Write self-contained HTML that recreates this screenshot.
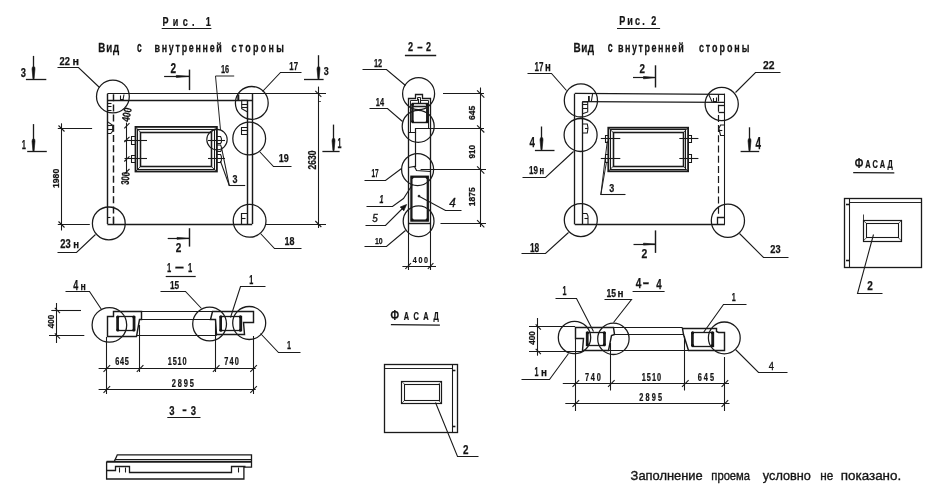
<!DOCTYPE html>
<html lang="ru"><head><meta charset="utf-8"><title>Рис. 1, Рис. 2</title>
<style>
html,body{margin:0;padding:0;background:#fff;}
body{width:929px;height:490px;overflow:hidden;}
svg{display:block;will-change:transform;}
svg line,svg polyline,svg polygon,svg circle,svg rect,svg path{fill:none;stroke:#1a1a1a;stroke-linecap:butt;stroke-linejoin:miter;}
svg text{fill:#141414;stroke:none;font-family:"Liberation Sans",sans-serif;}
svg text.b{font-weight:bold;stroke:#141414;stroke-width:0.25px;}
svg text.n{font-weight:normal;}
svg text.sc{font-variant:small-caps;}
svg text.note{stroke:#141414;stroke-width:0.35px;}
</style></head><body>
<svg width="929" height="490" viewBox="0 0 929 490">
<rect x="0" y="0" width="929" height="490" style="fill:#fff;stroke:none"/>
<g id="fig1">
<text class="b" transform="translate(162.4,25.8) scale(0.72,1)" x="0" y="0" font-size="12.57" textLength="67.08" lengthAdjust="spacing">Рис. 1</text>
<line x1="161.7" y1="28.5" x2="211.4" y2="28.5" stroke-width="1.2" />
<text class="b" transform="scale(0.75,1)"><tspan x="131.07" y="51.8" font-size="12.99" textLength="28.0" lengthAdjust="spacing">Вид</tspan> <tspan x="182.53" y="51.8" font-size="14.64" textLength="6.27" lengthAdjust="spacingAndGlyphs">с</tspan> <tspan x="206.13" y="51.8" font-size="11.95" textLength="89.6" lengthAdjust="spacing">внутренней</tspan> <tspan x="308.67" y="51.8" font-size="11.95" textLength="69.73" lengthAdjust="spacing">стороны</tspan></text>
<line x1="107.4" y1="93.5" x2="326" y2="93.5" stroke-width="1.2" />
<line x1="107.4" y1="100.5" x2="252.2" y2="100.5" stroke-width="1.68" />
<line x1="107.5" y1="93.8" x2="107.5" y2="224" stroke-width="1.44" />
<line x1="113.5" y1="94.2" x2="113.5" y2="224" stroke-width="1.44" stroke-dasharray="7 3.2"/>
<line x1="107.4" y1="224.5" x2="252.2" y2="224.5" stroke-width="1.44" />
<line x1="247.5" y1="100.4" x2="247.5" y2="224" stroke-width="1.44" />
<line x1="252.5" y1="93.8" x2="252.5" y2="224" stroke-width="1.44" />
<line x1="265" y1="224.5" x2="326" y2="224.5" stroke-width="1.08" />
<polyline points="120.5,95.5 120.5,99.5 123.5,99.5" stroke-width="1.08" />
<line x1="124" y1="94.5" x2="123" y2="100" stroke-width="1.08" />
<polyline points="107.5,103.5 111.5,103.5" stroke-width="1.08" />
<polyline points="107.5,106.5 111.5,106.5" stroke-width="1.08" />
<polyline points="107.5,110.5 111.5,110.5" stroke-width="1.08" />
<polyline points="107.4,121.6 112.7,125.2 112.7,131 110.8,133.5 107.4,133.5" stroke-width="1.08" />
<line x1="107.4" y1="125.5" x2="112" y2="125.5" stroke-width="1.08" />
<line x1="107.4" y1="129.5" x2="112.7" y2="129.5" stroke-width="1.08" />
<line x1="238.3" y1="94.5" x2="238.3" y2="100.4" stroke-width="2.04" />
<polyline points="247.6,100.4 241.7,100.4 241.7,108.6 247.6,112" stroke-width="1.08" />
<line x1="241.7" y1="104.5" x2="247.6" y2="104.5" stroke-width="1.08" />
<line x1="241.7" y1="107.5" x2="247.6" y2="107.5" stroke-width="1.08" />
<polyline points="247.5,127.5 241.5,127.5 241.5,134.5 247.5,134.5" stroke-width="1.08" />
<line x1="241.9" y1="130.5" x2="247.6" y2="130.5" stroke-width="1.08" />
<polyline points="247.5,213.5 241.5,213.5 241.5,224.5" stroke-width="1.2" />
<line x1="241.5" y1="218.5" x2="245.5" y2="218.5" stroke-width="1.08" />
<polyline points="107.5,217.5 110.5,217.5" stroke-width="1.08" />
<line x1="113.5" y1="217" x2="113.5" y2="224" stroke-width="1.2" />
<circle cx="112.9" cy="96.5" r="16.4" stroke-width="1.26"/>
<circle cx="251.8" cy="102.9" r="16.4" stroke-width="1.26"/>
<circle cx="249.2" cy="138.5" r="16.4" stroke-width="1.26"/>
<circle cx="108.8" cy="223.4" r="16.4" stroke-width="1.26"/>
<circle cx="249.6" cy="220.8" r="16.4" stroke-width="1.26"/>
<circle cx="217" cy="139.6" r="10.2" stroke-width="1.13"/>
<rect x="135.5" y="126.9" width="81.4" height="44.6" stroke-width="1.8"/>
<rect x="137.5" y="129.5" width="77.0" height="40.0" stroke-width="1.08"/>
<rect x="140.5" y="132.5" width="71.0" height="34.0" stroke-width="1.56"/>
<line x1="135.5" y1="126.9" x2="140.4" y2="132.2" stroke-width="0.84" />
<line x1="216.9" y1="126.9" x2="211.4" y2="132.2" stroke-width="0.84" />
<line x1="135.5" y1="171.5" x2="140.4" y2="166.6" stroke-width="0.84" />
<line x1="216.9" y1="171.5" x2="211.4" y2="166.6" stroke-width="0.84" />
<line x1="124.5" y1="140.5" x2="147" y2="140.5" stroke-width="1.08" />
<line x1="124.5" y1="158.5" x2="147" y2="158.5" stroke-width="1.08" />
<polyline points="135.5,136.5 131.5,136.5 131.5,144.5 135.5,144.5" stroke-width="1.08" />
<polyline points="135.5,155.5 131.5,155.5 131.5,162.5 135.5,162.5" stroke-width="1.08" />
<line x1="208" y1="140.5" x2="225" y2="140.5" stroke-width="1.08" />
<line x1="208" y1="158.5" x2="225" y2="158.5" stroke-width="1.08" />
<polyline points="216.9,136.5 220.6,136.5 221.4,138.5 221.4,142 220.6,143.5 216.9,143.5" stroke-width="1.08" />
<polyline points="216.9,145 220.6,145 221.4,147 221.4,150 220.6,151.5 216.9,151.5" stroke-width="1.08" />
<polyline points="216.9,154.5 220.6,154.5 221.4,156.5 221.4,160.5 220.6,162.5 216.9,162.5" stroke-width="1.08" />
<line x1="126.5" y1="122.6" x2="126.5" y2="173.6" stroke-width="1.08" />
<line x1="124.3" y1="128.4" x2="129.5" y2="123.2" stroke-width="1.08" />
<line x1="124.3" y1="142.0" x2="129.5" y2="136.8" stroke-width="1.08" />
<line x1="124.3" y1="161.5" x2="129.5" y2="156.3" stroke-width="1.08" />
<line x1="124.3" y1="174.2" x2="129.5" y2="169.0" stroke-width="1.08" />
<text class="b" transform="translate(129.3,122.3) rotate(-80)" x="0" y="0" font-size="11.17" textLength="14.2" lengthAdjust="spacingAndGlyphs">400</text>
<text class="b" transform="translate(128.8,185) rotate(-86)" x="0" y="0" font-size="11.17" textLength="12.8" lengthAdjust="spacingAndGlyphs">300</text>
<line x1="61.5" y1="123.3" x2="61.5" y2="230.5" stroke-width="1.08" />
<line x1="57.8" y1="128.5" x2="92.1" y2="128.5" stroke-width="1.08" />
<line x1="57.8" y1="224.5" x2="89.8" y2="224.5" stroke-width="1.08" />
<line x1="58.5" y1="125.5" x2="64.5" y2="131.5" stroke-width="1.08" />
<line x1="58.5" y1="221.5" x2="64.5" y2="227.5" stroke-width="1.08" />
<text class="b" transform="translate(59,188) rotate(-90)" x="0" y="0" font-size="9.92" textLength="19.2" lengthAdjust="spacingAndGlyphs">1980</text>
<line x1="318.5" y1="86.6" x2="318.5" y2="228" stroke-width="1.08" />
<line x1="315.3" y1="90.8" x2="321.3" y2="96.8" stroke-width="1.08" />
<line x1="315.3" y1="221" x2="321.3" y2="227" stroke-width="1.08" />
<line x1="318" y1="101.5" x2="321" y2="101.5" stroke-width="0.72" />
<text class="b" transform="translate(315.7,169.4) rotate(-90)" x="0" y="0" font-size="10.34" textLength="19.0" lengthAdjust="spacingAndGlyphs">2630</text>
<line x1="33.5" y1="55.9" x2="33.5" y2="78.9" stroke-width="1.32" />
<polygon points="32.5,66.9 34.7,66.9 35.0,68.9 34.0,78.9 33.0,78.9 32.0,68.9" stroke-width="0.6" style="fill:#111"/>
<line x1="25.9" y1="79.5" x2="46.3" y2="79.5" stroke-width="1.32" />
<text class="b" x="20.8" y="77.3" font-size="12.71" textLength="5.2" lengthAdjust="spacingAndGlyphs">3</text>
<line x1="318.5" y1="55.2" x2="318.5" y2="78.9" stroke-width="1.32" />
<polygon points="317.5,66.9 319.7,66.9 320.0,68.9 319.0,78.9 318.0,78.9 317.0,68.9" stroke-width="0.6" style="fill:#111"/>
<line x1="304" y1="79.5" x2="323.6" y2="79.5" stroke-width="1.32" />
<text class="b" x="323.8" y="75.2" font-size="11.73" textLength="5.0" lengthAdjust="spacingAndGlyphs">3</text>
<line x1="33.5" y1="124.1" x2="33.5" y2="151.2" stroke-width="1.32" />
<polygon points="32.5,139.2 34.7,139.2 35.0,141.2 34.0,151.2 33.0,151.2 32.0,141.2" stroke-width="0.6" style="fill:#111"/>
<line x1="27.2" y1="151.5" x2="46.8" y2="151.5" stroke-width="1.32" />
<text class="b" x="21.8" y="149" font-size="13.55" textLength="4.2" lengthAdjust="spacingAndGlyphs">1</text>
<line x1="333.5" y1="124.6" x2="333.5" y2="150.7" stroke-width="1.32" />
<polygon points="332.5,138.7 334.7,138.7 335.0,140.7 334.0,150.7 333.0,150.7 332.0,140.7" stroke-width="0.6" style="fill:#111"/>
<line x1="322.4" y1="151.5" x2="339.6" y2="151.5" stroke-width="1.32" />
<text class="b" x="337.6" y="147.8" font-size="15.36" textLength="4.0" lengthAdjust="spacingAndGlyphs">1</text>
<line x1="164.1" y1="76.5" x2="189.8" y2="76.5" stroke-width="1.2" />
<line x1="189.5" y1="69.6" x2="189.5" y2="90.1" stroke-width="1.44" />
<polygon points="176.3,75.4 189.8,76.3 176.3,77.4" stroke-width="0.72" style="fill:#111"/>
<text class="b" x="170.6" y="73.3" font-size="14.11" textLength="5.6" lengthAdjust="spacingAndGlyphs">2</text>
<line x1="167.7" y1="238.5" x2="189.2" y2="238.5" stroke-width="1.2" />
<line x1="189.5" y1="228.2" x2="189.5" y2="246.6" stroke-width="1.44" />
<polygon points="177,237.4 189.2,238.3 177,239.3" stroke-width="0.72" style="fill:#111"/>
<text class="b" x="175.7" y="251.7" font-size="12.85" textLength="5.6" lengthAdjust="spacingAndGlyphs">2</text>
<text class="b"><tspan x="59.6" y="65.2" font-size="11.73" textLength="10.4" lengthAdjust="spacingAndGlyphs">22</tspan> <tspan x="72.5" y="65.2" font-size="11.56" textLength="6.5" lengthAdjust="spacingAndGlyphs">н</tspan></text>
<polyline points="57.5,67.5 78.5,67.5 99.5,87.5" stroke-width="1.08" />
<text class="b"><tspan x="60.2" y="248.3" font-size="11.87" textLength="10.4" lengthAdjust="spacingAndGlyphs">23</tspan> <tspan x="73.2" y="248.3" font-size="11.75" textLength="5.8" lengthAdjust="spacingAndGlyphs">н</tspan></text>
<polyline points="57.5,252.5 76.5,252.5 95.5,234.5" stroke-width="1.08" />
<text class="b" x="289.3" y="69.9" font-size="10.34" textLength="8.7" lengthAdjust="spacingAndGlyphs">17</text>
<polyline points="301.5,72.5 280.5,72.5 262.5,91.5" stroke-width="1.08" />
<text class="b" x="278.8" y="162" font-size="11.31" textLength="10.0" lengthAdjust="spacingAndGlyphs">19</text>
<polyline points="291.5,166.5 273.5,166.5 259.5,151.5" stroke-width="1.08" />
<text class="b" x="284.4" y="244.5" font-size="11.17" textLength="10.0" lengthAdjust="spacingAndGlyphs">18</text>
<polyline points="301.5,248.5 274.5,248.5 260.5,233.5" stroke-width="1.08" />
<text class="b" x="221" y="72.8" font-size="10.47" textLength="8.2" lengthAdjust="spacingAndGlyphs">16</text>
<polyline points="234.2,76 215.5,76 220.5,130" stroke-width="0.96" />
<text class="b" x="232.5" y="182.5" font-size="11.17" textLength="5.0" lengthAdjust="spacingAndGlyphs">3</text>
<line x1="228.9" y1="185.5" x2="245.2" y2="185.5" stroke-width="1.08" />
<line x1="229.3" y1="185.6" x2="221.6" y2="148" stroke-width="1.08" />
<line x1="229.3" y1="185.6" x2="220.4" y2="161" stroke-width="1.08" />
</g>
<g id="s11">
<text class="b"><tspan x="167.1" y="272.3" font-size="13.41" textLength="4.2" lengthAdjust="spacingAndGlyphs">1</tspan> <tspan x="175.02" y="271.85" font-size="14" textLength="8.9" lengthAdjust="spacingAndGlyphs">–</tspan> <tspan x="188.0" y="272.3" font-size="13.41" textLength="4.2" lengthAdjust="spacingAndGlyphs">1</tspan></text>
<line x1="165.7" y1="276.5" x2="195.7" y2="276.5" stroke-width="1.2" />
<line x1="141.8" y1="311.5" x2="212.4" y2="311.5" stroke-width="1.08" />
<line x1="141.8" y1="319.5" x2="210.6" y2="319.5" stroke-width="1.08" />
<line x1="136.5" y1="335.5" x2="216.7" y2="335.5" stroke-width="1.08" />
<polygon points="107.5,316.5 113.5,316.5 113.5,311.5 141.5,311.5 141.5,319.5 139.5,319.5 136.5,336.5 107.5,336.5" stroke-width="1.44" />
<rect x="117.5" y="316.5" width="17.0" height="14.0" stroke-width="1.32"/>
<line x1="117.60000000000001" y1="316.3" x2="117.60000000000001" y2="330.6" stroke-width="2.64" />
<line x1="134.0" y1="316.3" x2="134.0" y2="330.6" stroke-width="2.64" />
<circle cx="117.8" cy="316.9" r="1.5" style="fill:#111;stroke:none"/>
<circle cx="133.8" cy="316.9" r="1.5" style="fill:#111;stroke:none"/>
<circle cx="117.8" cy="330.0" r="1.5" style="fill:#111;stroke:none"/>
<circle cx="133.8" cy="330.0" r="1.5" style="fill:#111;stroke:none"/>
<polygon points="212.5,311.5 253.5,311.5 253.5,322.5 243.5,322.5 244.5,334.5 216.5,334.5 215.5,319.5 210.5,319.5" stroke-width="1.44" />
<rect x="220.5" y="316.5" width="21.0" height="14.0" stroke-width="1.32"/>
<line x1="220.70000000000002" y1="316.2" x2="220.70000000000002" y2="330.8" stroke-width="2.64" />
<line x1="240.6" y1="316.2" x2="240.6" y2="330.8" stroke-width="2.64" />
<circle cx="220.9" cy="316.8" r="1.5" style="fill:#111;stroke:none"/>
<circle cx="240.4" cy="316.8" r="1.5" style="fill:#111;stroke:none"/>
<circle cx="220.9" cy="330.2" r="1.5" style="fill:#111;stroke:none"/>
<circle cx="240.4" cy="330.2" r="1.5" style="fill:#111;stroke:none"/>
<circle cx="109.4" cy="324.9" r="17.3" stroke-width="1.26"/>
<circle cx="209.6" cy="324" r="16.9" stroke-width="1.26"/>
<circle cx="249.2" cy="323" r="16.5" stroke-width="1.26"/>
<line x1="106.5" y1="337" x2="106.5" y2="394" stroke-width="1.08" />
<line x1="139.5" y1="325" x2="139.5" y2="372" stroke-width="1.08" />
<line x1="215.5" y1="320" x2="215.5" y2="372" stroke-width="1.08" />
<line x1="253.5" y1="336" x2="253.5" y2="394" stroke-width="1.08" />
<line x1="98.6" y1="368.5" x2="255.7" y2="368.5" stroke-width="1.08" />
<line x1="98.6" y1="389.5" x2="255.7" y2="389.5" stroke-width="1.08" />
<line x1="103.5" y1="371.8" x2="110.1" y2="365.2" stroke-width="1.08" />
<line x1="136.8" y1="371.8" x2="143.4" y2="365.2" stroke-width="1.08" />
<line x1="212.9" y1="371.8" x2="219.5" y2="365.2" stroke-width="1.08" />
<line x1="250.3" y1="371.8" x2="256.9" y2="365.2" stroke-width="1.08" />
<line x1="103.5" y1="392.8" x2="110.1" y2="386.2" stroke-width="1.08" />
<line x1="250.3" y1="392.8" x2="256.9" y2="386.2" stroke-width="1.08" />
<text class="b" transform="translate(115.2,364.6) scale(0.72,1)" x="0" y="0" font-size="10.2" textLength="18.89" lengthAdjust="spacing">645</text>
<text class="b" transform="translate(167.8,364.6) scale(0.72,1)" x="0" y="0" font-size="10.2" textLength="25.97" lengthAdjust="spacing">1510</text>
<text class="b" transform="translate(224.3,364.6) scale(0.72,1)" x="0" y="0" font-size="10.2" textLength="20.14" lengthAdjust="spacing">740</text>
<text class="b" transform="translate(171.8,387) scale(0.72,1)" x="0" y="0" font-size="10.34" textLength="30.56" lengthAdjust="spacing">2895</text>
<line x1="56.5" y1="303" x2="56.5" y2="343" stroke-width="1.08" />
<line x1="51.3" y1="310.5" x2="81" y2="310.5" stroke-width="1.08" />
<line x1="49" y1="335.5" x2="84.3" y2="335.5" stroke-width="1.08" />
<line x1="54.8" y1="307.9" x2="60.0" y2="313.1" stroke-width="1.08" />
<line x1="54.8" y1="333.4" x2="60.0" y2="338.6" stroke-width="1.08" />
<text class="b" transform="translate(54,328.3) rotate(-90)" x="0" y="0" font-size="9.78" textLength="13.7" lengthAdjust="spacingAndGlyphs">400</text>
<text class="b"><tspan x="73.2" y="289.5" font-size="14.11" textLength="5.0" lengthAdjust="spacingAndGlyphs">4</tspan><tspan x="80.5" y="289.5" font-size="10.98" textLength="5.3" lengthAdjust="spacingAndGlyphs">н</tspan></text>
<polyline points="65.5,291.5 89.5,291.5 101.5,309.5" stroke-width="1.08" />
<text class="b" x="170" y="289.2" font-size="11.03" textLength="9.2" lengthAdjust="spacingAndGlyphs">15</text>
<polyline points="160.5,291.5 185.5,291.5 201.5,308.5" stroke-width="1.08" />
<text class="b" x="249.3" y="283.8" font-size="12.29" textLength="4.0" lengthAdjust="spacingAndGlyphs">1</text>
<polyline points="265.5,286.5 240.5,286.5 230.5,317.5" stroke-width="1.08" />
<text class="b" x="287" y="348.5" font-size="11.17" textLength="4" lengthAdjust="spacingAndGlyphs">1</text>
<polyline points="300.5,352.5 278.5,352.5 260.5,333.5" stroke-width="1.08" />
</g>
<g id="s33">
<text class="b"><tspan x="169.2" y="415" font-size="12.85" textLength="5.3" lengthAdjust="spacingAndGlyphs">3</tspan> <tspan x="182.26" y="413.94" font-size="13" textLength="4.53" lengthAdjust="spacingAndGlyphs">-</tspan> <tspan x="190.7" y="415" font-size="12.85" textLength="5.3" lengthAdjust="spacingAndGlyphs">3</tspan></text>
<line x1="167.3" y1="417.5" x2="200.5" y2="417.5" stroke-width="1.2" />
<polyline points="114.3,461.5 117.3,454.8 251.5,454.8 251.5,467.1 243.9,467.1 243.9,479 106.6,479 106.6,461.5" stroke-width="1.32" />
<line x1="114.8" y1="459.5" x2="251.5" y2="459.5" stroke-width="1.08" />
<line x1="106.6" y1="461.8" x2="251.5" y2="461.8" stroke-width="1.92" />
<polyline points="106.5,470.5 115.5,470.5 115.5,466.5 129.5,466.5 129.5,472.5 231.5,472.5 231.5,466.5 245.5,466.5" stroke-width="1.32" />
<line x1="119.5" y1="467.5" x2="119.5" y2="472.5" stroke-width="1.08" />
<line x1="125.5" y1="467.5" x2="125.5" y2="472.5" stroke-width="1.08" />
<line x1="238.5" y1="467.5" x2="238.5" y2="472.5" stroke-width="1.08" />
</g>
<g id="s22">
<text class="b"><tspan x="408.1" y="50.9" font-size="13.41" textLength="5.1" lengthAdjust="spacingAndGlyphs">2</tspan> <tspan x="417.21" y="50.68" font-size="13" textLength="5.34" lengthAdjust="spacingAndGlyphs">–</tspan> <tspan x="426.0" y="51.4" font-size="13.41" textLength="5.0" lengthAdjust="spacingAndGlyphs">2</tspan></text>
<line x1="404.9" y1="55.5" x2="436.2" y2="55.5" stroke-width="1.32" />
<polyline points="408.5,230.5 408.5,98.5 415.5,98.5 415.5,94.5 422.5,94.5 422.5,98.5 430.5,98.5 430.5,230.5" stroke-width="1.32" />
<polyline points="410.5,132.5 410.5,100.5 417.5,100.5 417.5,97.5 420.5,97.5 420.5,100.5 428.5,100.5 428.5,128.5" stroke-width="0.96" />
<line x1="418.5" y1="98.8" x2="418.5" y2="104" stroke-width="1.08" />
<line x1="420.5" y1="98.8" x2="420.5" y2="104" stroke-width="1.08" />
<rect x="412.5" y="103.5" width="15.0" height="19.0" stroke-width="1.44"/>
<line x1="412.4" y1="103.8" x2="412.4" y2="122.2" stroke-width="2.28" />
<line x1="427.2" y1="103.8" x2="427.2" y2="122.2" stroke-width="2.28" />
<line x1="412" y1="106.5" x2="427.8" y2="106.5" stroke-width="1.56" />
<circle cx="412.6" cy="104.6" r="1.4" style="fill:#111;stroke:none"/>
<circle cx="427.2" cy="104.6" r="1.4" style="fill:#111;stroke:none"/>
<circle cx="412.6" cy="121.6" r="1.4" style="fill:#111;stroke:none"/>
<circle cx="427.2" cy="121.6" r="1.4" style="fill:#111;stroke:none"/>
<polyline points="408.5,132.5 415.5,132.5 415.5,128.5 430.5,128.5" stroke-width="1.2" />
<line x1="415.5" y1="132.4" x2="415.5" y2="167" stroke-width="1.2" />
<polyline points="408.5,167.5 414.5,166.5 416.5,170.5 430.5,171.5" stroke-width="1.2" />
<line x1="408.2" y1="223.5" x2="430.6" y2="223.5" stroke-width="1.44" />
<rect x="411.4" y="176.7" width="16.4" height="43.9" stroke-width="2.28"/>
<circle cx="412.2" cy="177.5" r="1.4" style="fill:#111;stroke:none"/>
<circle cx="427" cy="177.5" r="1.4" style="fill:#111;stroke:none"/>
<circle cx="412.2" cy="219.8" r="1.4" style="fill:#111;stroke:none"/>
<circle cx="427" cy="219.8" r="1.4" style="fill:#111;stroke:none"/>
<circle cx="418.6" cy="93.7" r="16.0" stroke-width="1.26"/>
<circle cx="418.2" cy="126.3" r="16.0" stroke-width="1.26"/>
<circle cx="417.6" cy="169.6" r="16.0" stroke-width="1.26"/>
<circle cx="418.6" cy="221.2" r="15.4" stroke-width="1.26"/>
<line x1="480.5" y1="87.5" x2="480.5" y2="227" stroke-width="1.08" />
<line x1="443" y1="93.5" x2="484" y2="93.5" stroke-width="1.08" />
<line x1="419" y1="128.5" x2="484" y2="128.5" stroke-width="1.08" />
<line x1="420.6" y1="169.5" x2="486" y2="169.5" stroke-width="1.08" />
<line x1="440.5" y1="223.5" x2="486" y2="223.5" stroke-width="1.08" />
<line x1="477.1" y1="90.4" x2="484.3" y2="97.6" stroke-width="1.08" />
<line x1="477.1" y1="125.3" x2="484.3" y2="132.5" stroke-width="1.08" />
<line x1="477.1" y1="166.4" x2="484.3" y2="173.6" stroke-width="1.08" />
<line x1="477.1" y1="220.1" x2="484.3" y2="227.3" stroke-width="1.08" />
<text class="b" transform="translate(475.2,120) rotate(-90)" x="0" y="0" font-size="9.5" textLength="14.4" lengthAdjust="spacingAndGlyphs">645</text>
<text class="b" transform="translate(475,158.4) rotate(-90)" x="0" y="0" font-size="9.5" textLength="13.4" lengthAdjust="spacingAndGlyphs">910</text>
<text class="b" transform="translate(474.8,206.2) rotate(-90)" x="0" y="0" font-size="9.5" textLength="18.9" lengthAdjust="spacingAndGlyphs">1875</text>
<line x1="408.5" y1="230" x2="408.5" y2="270" stroke-width="1.08" />
<line x1="430.5" y1="230" x2="430.5" y2="270" stroke-width="1.08" />
<line x1="402.4" y1="266.5" x2="436" y2="266.5" stroke-width="1.08" />
<line x1="405.4" y1="268.8" x2="411.0" y2="263.2" stroke-width="1.08" />
<line x1="427.8" y1="268.8" x2="433.4" y2="263.2" stroke-width="1.08" />
<text class="b" transform="translate(412.8,263.4) scale(0.72,1)" x="0" y="0" font-size="9.92" textLength="21.11" lengthAdjust="spacing">400</text>
<text class="b" x="374" y="66.6" font-size="11.17" textLength="8.2" lengthAdjust="spacingAndGlyphs">12</text>
<polyline points="362.5,69.5 386.5,69.5 405.5,85.5" stroke-width="1.08" />
<text class="b" x="375.8" y="105.6" font-size="11.17" textLength="8.2" lengthAdjust="spacingAndGlyphs">14</text>
<polyline points="369.5,108.5 387.5,108.5 402.5,121.5" stroke-width="1.08" />
<text class="b" x="371.4" y="177.4" font-size="10.47" textLength="7.2" lengthAdjust="spacingAndGlyphs">17</text>
<polyline points="364.5,180.5 385.5,180.5 401.5,168.5" stroke-width="1.08" />
<text class="b" x="379.6" y="203.2" font-size="10.89" textLength="4.0" lengthAdjust="spacingAndGlyphs" font-style="italic">1</text>
<polyline points="366.5,206.5 392.5,206.5 403.5,198.5 412.5,184.5" stroke-width="1.08" />
<text class="n note" x="372.3" y="222.3" font-size="10.47" textLength="5.5" lengthAdjust="spacingAndGlyphs" font-style="italic">5</text>
<polyline points="365.5,225.5 385.5,225.5 405.5,205.5" stroke-width="1.08" />
<polygon points="406.6,204.5 400.2,207 403.8,210.8" stroke-width="0.72" style="fill:#111"/>
<text class="b" x="374.9" y="244.3" font-size="9.78" textLength="7.7" lengthAdjust="spacingAndGlyphs">10</text>
<polyline points="364.5,246.5 386.5,246.5 405.5,230.5" stroke-width="1.08" />
<text class="n note" x="449.3" y="206.5" font-size="12.15" textLength="6.5" lengthAdjust="spacingAndGlyphs" font-style="italic">4</text>
<polyline points="461.5,210.5 445.5,210.5 419.5,196.5" stroke-width="1.08" />
<circle cx="419" cy="196.1" r="0.9" style="fill:#111"/>
</g>
<g id="fas1">
<text class="b sc" transform="translate(390.5,320.2) scale(0.72,1)" x="0" y="0" font-size="13.97" textLength="67.08" lengthAdjust="spacing">Фасад</text>
<line x1="390.9" y1="324.6" x2="439.9" y2="325.2" stroke-width="1.32" />
<rect x="384.5" y="364.5" width="73.0" height="68.0" stroke-width="1.32"/>
<line x1="384.4" y1="368.5" x2="452.4" y2="368.5" stroke-width="0.96" />
<line x1="452.5" y1="364.5" x2="452.5" y2="432.1" stroke-width="1.08" />
<line x1="452.4" y1="370.5" x2="455.4" y2="370.5" stroke-width="1.56" />
<line x1="452.4" y1="426.5" x2="455.4" y2="426.5" stroke-width="1.56" />
<rect x="401.5" y="381.5" width="40.0" height="22.0" stroke-width="1.2"/>
<rect x="404.5" y="384.5" width="35.0" height="16.0" stroke-width="1.08"/>
<line x1="401.3" y1="381" x2="404.3" y2="384" stroke-width="0.72" />
<line x1="441.8" y1="381" x2="438.8" y2="384" stroke-width="0.72" />
<line x1="401.3" y1="403.9" x2="404.3" y2="400.6" stroke-width="0.72" />
<line x1="441.8" y1="403.9" x2="438.8" y2="400.6" stroke-width="0.72" />
<polyline points="435.5,402.5 457.5,456.5 478.5,456.5" stroke-width="1.08" />
<text class="b" x="463" y="453.5" font-size="12.57" textLength="5.5" lengthAdjust="spacingAndGlyphs">2</text>
</g>
<g id="fig2">
<text class="b" transform="translate(619.2,24.8) scale(0.72,1)" x="0" y="0" font-size="12.57" textLength="51.67" lengthAdjust="spacing">Рис. 2</text>
<line x1="617" y1="28.5" x2="660.1" y2="28.5" stroke-width="1.2" />
<text class="b" transform="scale(0.75,1)"><tspan x="764.67" y="52.4" font-size="13.27" textLength="27.6" lengthAdjust="spacing">Вид</tspan> <tspan x="810.4" y="52.4" font-size="14.45" textLength="6.53" lengthAdjust="spacingAndGlyphs">с</tspan> <tspan x="824.13" y="52.4" font-size="11.95" textLength="87.6" lengthAdjust="spacing">внутренней</tspan> <tspan x="931.87" y="52.4" font-size="11.95" textLength="67.33" lengthAdjust="spacing">стороны</tspan></text>
<line x1="574.8" y1="93.4" x2="724.9" y2="94.3" stroke-width="1.32" />
<line x1="582.3" y1="101.7" x2="724.9" y2="102.3" stroke-width="1.32" />
<line x1="574.5" y1="93.7" x2="574.5" y2="224.3" stroke-width="1.32" />
<line x1="582.5" y1="101.9" x2="582.5" y2="224.3" stroke-width="1.32" />
<line x1="574.8" y1="224.5" x2="724.9" y2="224.5" stroke-width="1.32" />
<line x1="724.5" y1="93.7" x2="724.5" y2="224.3" stroke-width="1.08" />
<line x1="718.5" y1="94.5" x2="718.5" y2="214" stroke-width="1.2" stroke-dasharray="7 3.2"/>
<line x1="588.9" y1="96" x2="588.9" y2="101.5" stroke-width="1.8" />
<line x1="592.6" y1="93.8" x2="591.3" y2="101.7" stroke-width="1.08" />
<polyline points="582.5,101.9 587.7,101.9 587.7,111.9 582.5,113.8" stroke-width="1.08" />
<line x1="582.5" y1="104.5" x2="587.7" y2="104.5" stroke-width="1.08" />
<line x1="582.5" y1="108.5" x2="587.7" y2="108.5" stroke-width="1.08" />
<polyline points="582.5,124 587.3,124 588,128 587.3,133 582.5,133" stroke-width="1.08" />
<line x1="585" y1="128.5" x2="588" y2="128.5" stroke-width="1.08" />
<polyline points="582.5,213.5 586.8,213.5 588,216 588,224.3" stroke-width="1.08" />
<line x1="584.5" y1="218.5" x2="588" y2="218.5" stroke-width="1.08" />
<line x1="708.6" y1="94.2" x2="712.2" y2="102.1" stroke-width="1.08" />
<polyline points="713.5,98 713.5,101.6 716.5,101.6 716.5,97.5" stroke-width="1.08" />
<line x1="718.6" y1="105.5" x2="724.9" y2="105.5" stroke-width="1.32" />
<line x1="718.6" y1="112.5" x2="724.9" y2="112.5" stroke-width="1.32" />
<polyline points="724.9,125 720.6,125 718.8,128.5 720.6,135.5 724.9,135.5" stroke-width="1.08" />
<line x1="719" y1="130.5" x2="722.3" y2="130.5" stroke-width="1.08" />
<polyline points="724.5,217.5 717.5,217.5 717.5,224.5" stroke-width="1.32" />
<circle cx="580.9" cy="100.4" r="16.6" stroke-width="1.26"/>
<circle cx="580.6" cy="135" r="16.5" stroke-width="1.26"/>
<circle cx="580.8" cy="220.1" r="16.5" stroke-width="1.26"/>
<circle cx="721.7" cy="104" r="16.6" stroke-width="1.26"/>
<circle cx="727.9" cy="220.8" r="16.6" stroke-width="1.26"/>
<rect x="608.3" y="127.7" width="79.8" height="43.6" stroke-width="1.8"/>
<rect x="610.5" y="129.5" width="75.0" height="40.0" stroke-width="1.08"/>
<rect x="613.5" y="132.5" width="70.0" height="34.0" stroke-width="1.56"/>
<line x1="608.3" y1="127.7" x2="613.2" y2="132.5" stroke-width="0.84" />
<line x1="688.1" y1="127.7" x2="683.5" y2="132.5" stroke-width="0.84" />
<line x1="608.3" y1="171.3" x2="613.2" y2="166.3" stroke-width="0.84" />
<line x1="688.1" y1="171.3" x2="683.5" y2="166.3" stroke-width="0.84" />
<line x1="600.8" y1="138.5" x2="620.3" y2="138.5" stroke-width="1.08" />
<line x1="600.8" y1="158.5" x2="620.3" y2="158.5" stroke-width="1.08" />
<polyline points="608.5,135.5 605.5,135.5 605.5,142.5 608.5,142.5" stroke-width="1.08" />
<polyline points="608.5,154.5 605.5,154.5 605.5,162.5 608.5,162.5" stroke-width="1.08" />
<line x1="679.3" y1="138.5" x2="698.4" y2="138.5" stroke-width="1.08" />
<line x1="679.3" y1="158.5" x2="698.4" y2="158.5" stroke-width="1.08" />
<polyline points="688.5,135.5 691.5,135.5 691.5,142.5 688.5,142.5" stroke-width="1.08" />
<polyline points="688.5,154.5 691.5,154.5 691.5,162.5 688.5,162.5" stroke-width="1.08" />
<line x1="633" y1="77.5" x2="655.8" y2="77.5" stroke-width="1.2" />
<line x1="655.5" y1="65.3" x2="655.5" y2="87.5" stroke-width="1.44" />
<polygon points="643.5,76.6 655.8,77.5 643.5,78.8" stroke-width="0.72" style="fill:#111"/>
<text class="b" x="639.5" y="73.2" font-size="13.41" textLength="5.5" lengthAdjust="spacingAndGlyphs">2</text>
<line x1="633.5" y1="244.5" x2="655.3" y2="244.5" stroke-width="1.2" />
<line x1="655.5" y1="230.4" x2="655.5" y2="252.9" stroke-width="1.44" />
<polygon points="643.5,243.2 655.3,244.1 643.5,245.1" stroke-width="0.72" style="fill:#111"/>
<text class="b" x="641.4" y="257.6" font-size="13.13" textLength="5.8" lengthAdjust="spacingAndGlyphs">2</text>
<line x1="541.5" y1="126.5" x2="541.5" y2="149.8" stroke-width="1.32" />
<polygon points="540.5,137.8 542.7,137.8 543.0,139.8 542.0,149.8 541.0,149.8 540.0,139.8" stroke-width="0.6" style="fill:#111"/>
<line x1="534.9" y1="150.5" x2="554.5" y2="150.5" stroke-width="1.32" />
<text class="b" x="529.4" y="147.2" font-size="14.8" textLength="5.4" lengthAdjust="spacingAndGlyphs">4</text>
<line x1="749.5" y1="127.3" x2="749.5" y2="150.8" stroke-width="1.32" />
<polygon points="748.5,138.8 750.7,138.8 751.0,140.8 750.0,150.8 749.0,150.8 748.0,140.8" stroke-width="0.6" style="fill:#111"/>
<line x1="740.6" y1="151.5" x2="759.2" y2="151.5" stroke-width="1.32" />
<text class="b" x="755.5" y="148.5" font-size="16.06" textLength="5.5" lengthAdjust="spacingAndGlyphs">4</text>
<text class="b"><tspan x="534.6" y="71.2" font-size="12.99" textLength="8.9" lengthAdjust="spacingAndGlyphs">17</tspan><tspan x="545.0" y="71.2" font-size="11.95" textLength="5.8" lengthAdjust="spacingAndGlyphs">н</tspan></text>
<polyline points="527.5,73.5 551.5,73.5 566.5,90.5" stroke-width="1.08" />
<text class="b" x="763" y="68.8" font-size="11.45" textLength="11.5" lengthAdjust="spacingAndGlyphs">22</text>
<polyline points="780.5,72.5 755.5,72.5 735.5,92.5" stroke-width="1.08" />
<text class="b"><tspan x="529.1" y="173.7" font-size="11.45" textLength="8.9" lengthAdjust="spacingAndGlyphs">19</tspan><tspan x="539.4" y="173.7" font-size="10.6" textLength="4.6" lengthAdjust="spacingAndGlyphs">н</tspan></text>
<polyline points="522.5,177.5 545.5,177.5 573.5,151.5" stroke-width="1.08" />
<text class="b" x="609.2" y="191.5" font-size="10.75" textLength="5.0" lengthAdjust="spacingAndGlyphs">3</text>
<line x1="600.8" y1="194.5" x2="625.5" y2="194.5" stroke-width="1.08" />
<line x1="600.8" y1="194.9" x2="607.3" y2="141" stroke-width="0.96" />
<line x1="600.8" y1="194.9" x2="606.5" y2="161.8" stroke-width="0.96" />
<text class="b" x="529.9" y="251.8" font-size="12.15" textLength="9.3" lengthAdjust="spacingAndGlyphs">18</text>
<polyline points="521.5,253.5 545.5,253.5 568.5,232.5" stroke-width="1.08" />
<text class="b" x="770.3" y="253.2" font-size="11.45" textLength="10.3" lengthAdjust="spacingAndGlyphs">23</text>
<polyline points="788.5,257.5 763.5,257.5 739.5,233.5" stroke-width="1.08" />
</g>
<g id="s44">
<text class="b"><tspan x="635.8" y="287.6" font-size="14.39" textLength="5.6" lengthAdjust="spacingAndGlyphs">4</tspan> <tspan x="642.48" y="286.78" font-size="12" textLength="6.79" lengthAdjust="spacingAndGlyphs">-</tspan> <tspan x="656.2" y="288.6" font-size="14.39" textLength="5.4" lengthAdjust="spacingAndGlyphs">4</tspan></text>
<line x1="632.6" y1="291.5" x2="664.6" y2="291.5" stroke-width="1.2" />
<line x1="529" y1="326.5" x2="575.1" y2="326.5" stroke-width="1.08" />
<line x1="529" y1="351.5" x2="582.1" y2="351.5" stroke-width="1.08" />
<line x1="613.4" y1="327.5" x2="682.6" y2="327.5" stroke-width="1.08" />
<line x1="614.9" y1="334.5" x2="683.9" y2="334.5" stroke-width="1.08" />
<line x1="608.5" y1="350.5" x2="688.8" y2="350.5" stroke-width="1.08" />
<polygon points="575.5,327.5 613.5,327.5 614.5,334.5 611.5,335.5 608.5,350.5 582.5,350.5 583.5,338.5 575.5,338.5" stroke-width="1.44" />
<rect x="586.5" y="332.5" width="18.0" height="13.0" stroke-width="1.32"/>
<line x1="587.3" y1="332.2" x2="587.3" y2="345.3" stroke-width="2.64" />
<line x1="604.5" y1="332.2" x2="604.5" y2="345.3" stroke-width="2.64" />
<circle cx="587.5" cy="332.8" r="1.5" style="fill:#111;stroke:none"/>
<circle cx="604.3" cy="332.8" r="1.5" style="fill:#111;stroke:none"/>
<circle cx="587.5" cy="344.7" r="1.5" style="fill:#111;stroke:none"/>
<circle cx="604.3" cy="344.7" r="1.5" style="fill:#111;stroke:none"/>
<polygon points="682.5,328.5 716.5,328.5 716.5,331.5 718.5,332.5 724.5,332.5 724.5,350.5 688.5,350.5 683.5,334.5" stroke-width="1.44" />
<rect x="692.5" y="332.5" width="21.0" height="14.0" stroke-width="1.32"/>
<line x1="692.4" y1="332.2" x2="692.4" y2="346" stroke-width="2.64" />
<line x1="712.6" y1="332.2" x2="712.6" y2="346" stroke-width="2.64" />
<circle cx="692.6" cy="332.8" r="1.5" style="fill:#111;stroke:none"/>
<circle cx="712.4" cy="332.8" r="1.5" style="fill:#111;stroke:none"/>
<circle cx="692.6" cy="345.4" r="1.5" style="fill:#111;stroke:none"/>
<circle cx="712.4" cy="345.4" r="1.5" style="fill:#111;stroke:none"/>
<circle cx="574.5" cy="337.5" r="16.2" stroke-width="1.26"/>
<circle cx="613.4" cy="338.8" r="15.7" stroke-width="1.26"/>
<circle cx="724.3" cy="337.9" r="15.9" stroke-width="1.26"/>
<line x1="575.5" y1="338.8" x2="575.5" y2="411" stroke-width="1.08" />
<line x1="610.5" y1="343" x2="610.5" y2="390.5" stroke-width="1.08" />
<line x1="684.5" y1="336" x2="684.5" y2="390.5" stroke-width="1.08" />
<line x1="724.5" y1="357" x2="724.5" y2="411" stroke-width="1.08" />
<line x1="562.8" y1="383.5" x2="729" y2="383.5" stroke-width="1.08" />
<line x1="565.3" y1="403.5" x2="729.5" y2="403.5" stroke-width="1.08" />
<line x1="572.5" y1="386.8" x2="579.1" y2="380.2" stroke-width="1.08" />
<line x1="608.0" y1="386.8" x2="614.6" y2="380.2" stroke-width="1.08" />
<line x1="682.0" y1="386.8" x2="688.6" y2="380.2" stroke-width="1.08" />
<line x1="721.6" y1="386.8" x2="728.2" y2="380.2" stroke-width="1.08" />
<line x1="572.5" y1="406.8" x2="579.1" y2="400.2" stroke-width="1.08" />
<line x1="721.6" y1="406.8" x2="728.2" y2="400.2" stroke-width="1.08" />
<text class="b" transform="translate(585,380.9) scale(0.72,1)" x="0" y="0" font-size="10.2" textLength="21.94" lengthAdjust="spacing">740</text>
<text class="b" transform="translate(641.7,380.9) scale(0.72,1)" x="0" y="0" font-size="10.2" textLength="27.08" lengthAdjust="spacing">1510</text>
<text class="b" transform="translate(697.8,380.9) scale(0.72,1)" x="0" y="0" font-size="10.2" textLength="22.5" lengthAdjust="spacing">645</text>
<text class="b" transform="translate(639.3,400.5) scale(0.72,1)" x="0" y="0" font-size="10.2" textLength="31.81" lengthAdjust="spacing">2895</text>
<line x1="537.5" y1="318" x2="537.5" y2="355.7" stroke-width="1.08" />
<line x1="535.7" y1="324.4" x2="540.9" y2="329.6" stroke-width="1.08" />
<line x1="535.7" y1="348.9" x2="540.9" y2="354.1" stroke-width="1.08" />
<text class="b" transform="translate(535.2,344.8) rotate(-90)" x="0" y="0" font-size="9.78" textLength="13.5" lengthAdjust="spacingAndGlyphs">400</text>
<text class="b" x="562.5" y="295" font-size="11.87" textLength="4.0" lengthAdjust="spacingAndGlyphs">1</text>
<polyline points="555.5,298.5 576.5,298.5 593.5,331.5" stroke-width="1.08" />
<text class="b"><tspan x="606.5" y="296.5" font-size="11.17" textLength="9.5" lengthAdjust="spacingAndGlyphs">15</tspan><tspan x="617.5" y="296.5" font-size="10.98" textLength="6.0" lengthAdjust="spacingAndGlyphs">н</tspan></text>
<polyline points="604.5,299.5 631.5,299.5 613.5,322.5" stroke-width="1.08" />
<text class="b" x="731.8" y="300.8" font-size="11.73" textLength="4.0" lengthAdjust="spacingAndGlyphs">1</text>
<polyline points="746.5,304.5 723.5,304.5 703.5,332.5" stroke-width="1.08" />
<text class="n note" x="768.8" y="369.8" font-size="11.59" textLength="5.2" lengthAdjust="spacingAndGlyphs">4</text>
<polyline points="787.5,372.5 758.5,372.5 735.5,349.5" stroke-width="1.08" />
<text class="b"><tspan x="534.5" y="376" font-size="11.87" textLength="4.0" lengthAdjust="spacingAndGlyphs">1</tspan><tspan x="541.0" y="376" font-size="10.98" textLength="6.0" lengthAdjust="spacingAndGlyphs">н</tspan></text>
<polyline points="521.5,379.5 549.5,379.5 568.5,353.5" stroke-width="1.08" />
</g>
<g id="fas2">
<text class="b sc" transform="translate(854.7,168.1) scale(0.72,1)" x="0" y="0" font-size="13.97" textLength="52.78" lengthAdjust="spacing">Фасад</text>
<line x1="853.2" y1="172.6" x2="894.3" y2="172.8" stroke-width="1.32" />
<rect x="844.5" y="198.5" width="77.0" height="69.0" stroke-width="1.32"/>
<line x1="849" y1="202.5" x2="921.2" y2="202.5" stroke-width="0.96" />
<line x1="849.5" y1="198.4" x2="849.5" y2="267.3" stroke-width="1.08" />
<line x1="846" y1="204.5" x2="849" y2="204.5" stroke-width="1.56" />
<line x1="846" y1="260.5" x2="849" y2="260.5" stroke-width="1.56" />
<rect x="863.5" y="220.5" width="38.0" height="21.0" stroke-width="1.2"/>
<rect x="866.5" y="223.5" width="32.0" height="14.0" stroke-width="1.08"/>
<line x1="863" y1="220.3" x2="866.8" y2="223.7" stroke-width="0.72" />
<line x1="901.6" y1="220.3" x2="898.2" y2="223.7" stroke-width="0.72" />
<line x1="863" y1="241" x2="866.8" y2="237.5" stroke-width="0.72" />
<line x1="901.6" y1="241" x2="898.2" y2="237.5" stroke-width="0.72" />
<line x1="863.5" y1="214.5" x2="863.5" y2="220.3" stroke-width="0.84" />
<polyline points="873.5,234.5 857.5,293.5 882.5,293.5" stroke-width="1.08" />
<text class="b" x="867.2" y="290" font-size="12.57" textLength="5.6" lengthAdjust="spacingAndGlyphs">2</text>
</g>
<text class="n note" y="480.2" font-size="12.6"><tspan x="630.6" textLength="72.1" lengthAdjust="spacingAndGlyphs">Заполнение</tspan> <tspan x="711.3" textLength="38.8" lengthAdjust="spacingAndGlyphs">проема</tspan> <tspan x="762.8" textLength="48.1" lengthAdjust="spacingAndGlyphs">условно</tspan> <tspan x="820.2" textLength="13.0" lengthAdjust="spacingAndGlyphs">не</tspan> <tspan x="840.8" textLength="60.4" lengthAdjust="spacingAndGlyphs">показано.</tspan></text>
</svg>
</body></html>
